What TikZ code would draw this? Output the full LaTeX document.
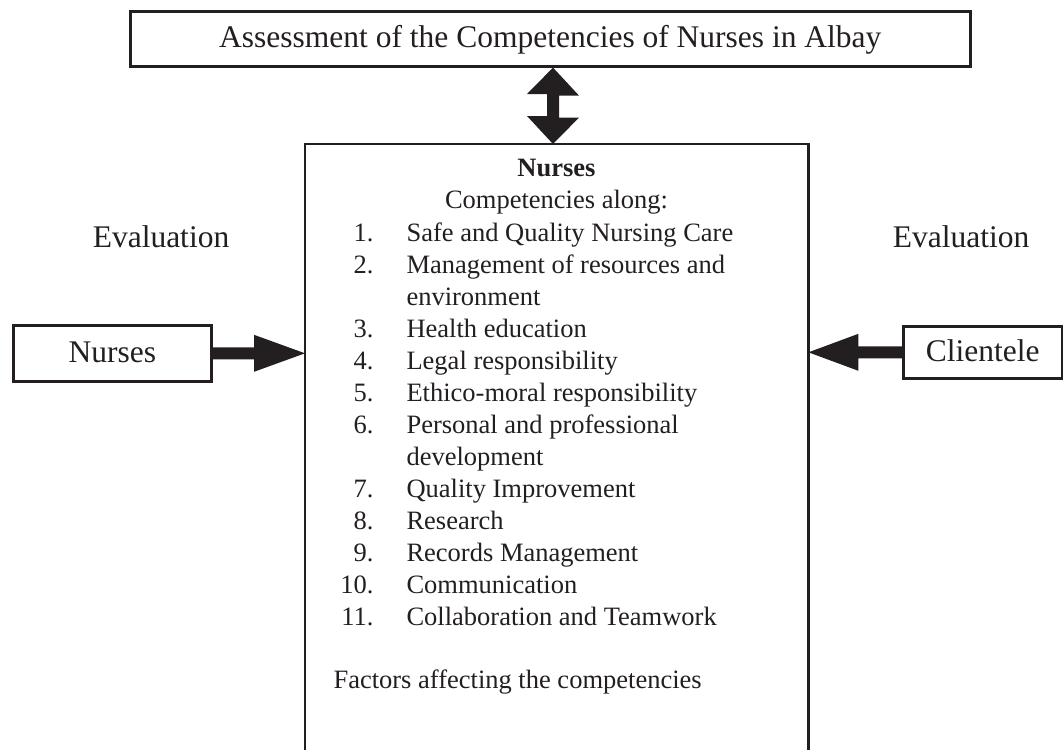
\documentclass[tikz,border=0pt]{standalone}
\usepackage{fontspec}
\setmainfont{Liberation Serif}
\usetikzlibrary{calc}
\definecolor{ink}{HTML}{231F20}
\begin{document}
\begin{tikzpicture}[x=1pt,y=-1pt,
  box/.style={draw=ink, line width=2.6pt, inner sep=0pt, text height=22pt, text depth=4pt},
  big/.style={font=\fontsize{31.5}{36}\selectfont, text=ink},
  small/.style={font=\fontsize{26.5}{32}\selectfont, text=ink},
  arrowfill/.style={fill=ink, draw=none},
  frame/.style={draw=ink, line width=2.6pt}]
\useasboundingbox (0,0) rectangle (1063,750);

% title box
\node[box,big,minimum width=840,minimum height=55,anchor=north west] (title) at (129,10) {Assessment of the Competencies of Nurses in Albay};

% main box (open at the bottom)
\node[minimum width=503, minimum height=606, anchor=north west, inner sep=0pt] (main) at (305,144) {};
\draw[frame] (main.south west) -- (main.north west) -- (main.north east) -- (main.south east);

% side boxes
\node[box,big,minimum width=198,minimum height=56,anchor=north west] (nurses) at (12,324) {Nurses};
\node[box,big,minimum width=159,minimum height=52,anchor=north west] (client) at (902,325) {Clientele};

% labels
\node[big,anchor=base] (evl) at (161,247) {Evaluation};
\node[big,anchor=base] (evr) at (961,247) {Evaluation};

% double arrow
\coordinate (ax) at (553,0);
\fill[arrowfill] (ax |- title.south) -- ++(26,28) -- ++(-20,0) -- ++(0,22) -- ++(20,0)
  -- (ax |- main.north) -- ++(-26,-28) -- ++(20,0) -- ++(0,-22) -- ++(-20,0) -- cycle;

% left arrow
\fill[arrowfill] ($(nurses.east)+(0,-6)$) -- ($(main.west |- nurses.east)+(-51,-6)$) -- ++(0,-12.5)
  -- (main.west |- nurses.east) -- ++(-51,18.5) -- ++(0,-12.5) -- ($(nurses.east)+(0,6)$) -- cycle;

% right arrow
\fill[arrowfill] ($(client.west)+(0,-6)$) -- ($(main.east |- client.west)+(50,-6)$) -- ++(0,-12.5)
  -- (main.east |- client.west) -- ++(50,18.5) -- ++(0,-12.5) -- ($(client.west)+(0,6)$) -- cycle;

% main content
\node[small,anchor=base] (head) at (556.5,176) {\bfseries Nurses};
\node[small,anchor=base] (along) at (556.5,208) {Competencies along:};
\foreach \n/\t [count=\i from 0] in {
  1./Safe and Quality Nursing Care,
  2./Management of resources and,
  /environment,
  3./Health education,
  4./Legal responsibility,
  5./Ethico-moral responsibility,
  6./Personal and professional,
  /development,
  7./Quality Improvement,
  8./Research,
  9./Records Management,
  10./Communication,
  11./Collaboration and Teamwork} {
  \node[small,anchor=base east] (num\i) at (377,{241+32*\i}) {\n};
  \node[small,anchor=base west] (item\i) at (403,{241+32*\i}) {\t};
}
\node[small,anchor=base west] (factors) at (330,688) {Factors affecting the competencies};
\end{tikzpicture}
\end{document}
